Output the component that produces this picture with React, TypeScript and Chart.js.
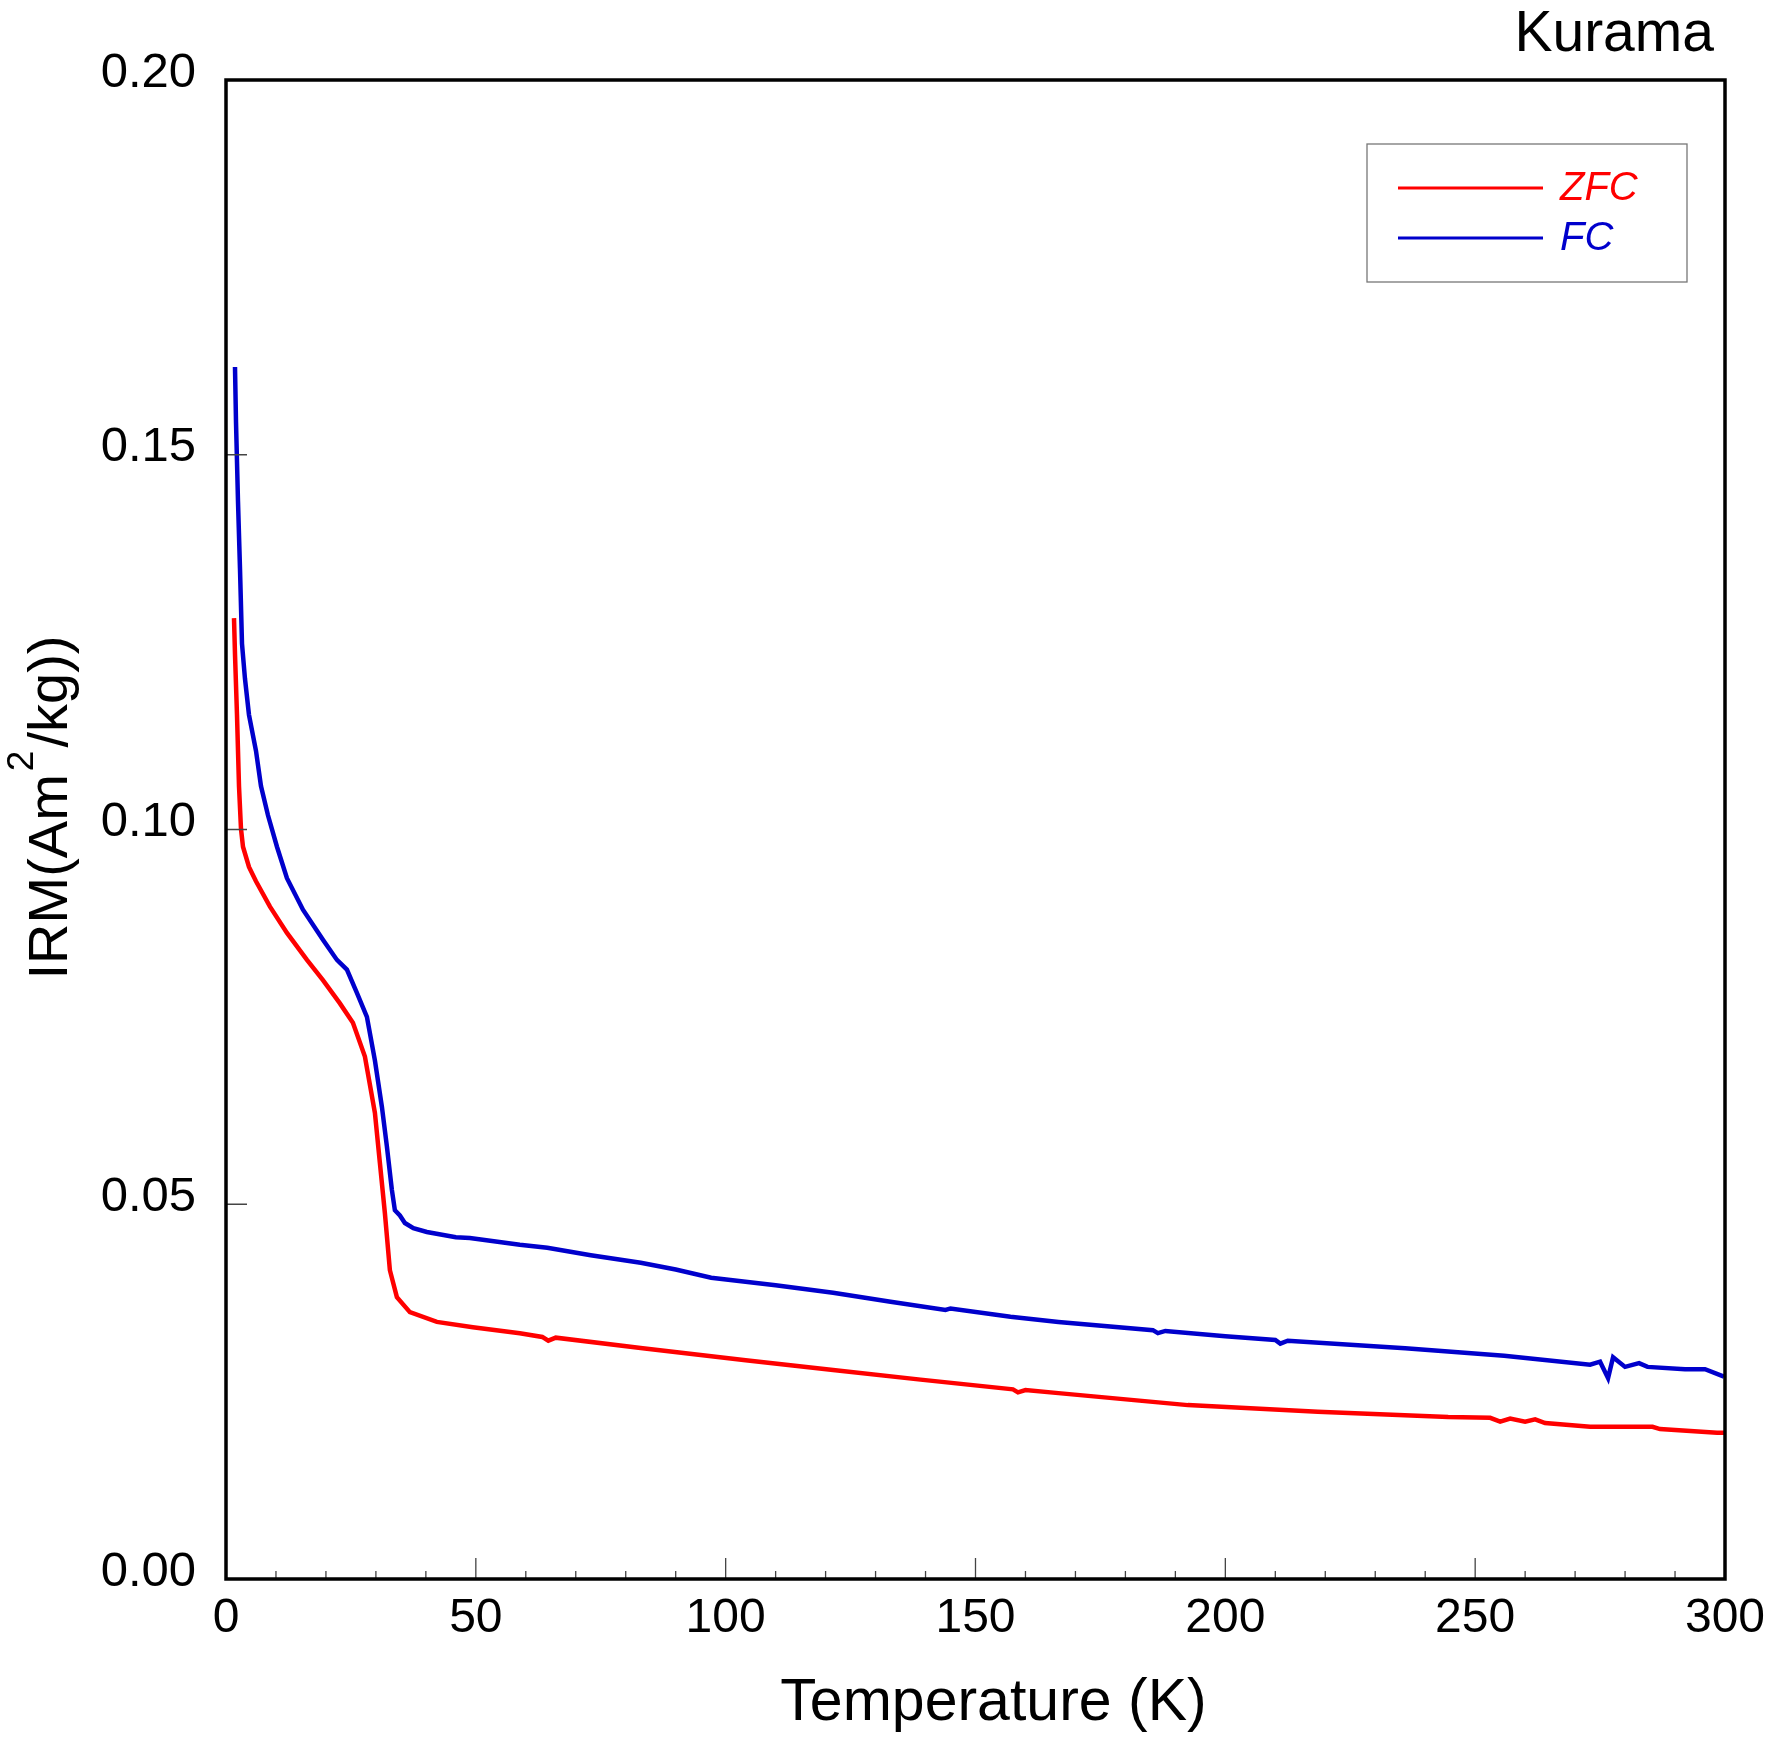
import React, { useEffect, useRef } from "react";
import { Chart, registerables } from "chart.js";

Chart.register(...registerables);

// ---- data (temperature in K, IRM in Am^2/kg) ----
const zfcT = [
  1.6, 1.8, 2.2, 2.6, 3.0, 3.4, 4.6, 6.0, 8.8, 12.2, 16.2, 19.4, 22.8, 25.4, 27.8,
  29.8, 30.8, 31.8, 32.8, 34.2, 36.8, 42.2, 49.4, 58.8, 63.3, 64.5, 66, 83.4, 104,
  121.5, 139, 157.5, 158.5, 160, 166.6, 192.5, 218.5, 244.6, 253, 255, 257, 260, 262,
  264, 273, 285.5, 287, 298.4, 299.8,
];
const zfcIRM = [
  0.1282, 0.1234, 0.1153, 0.1058, 0.1001, 0.0977, 0.0950, 0.0931, 0.0897, 0.0862,
  0.0826, 0.0799, 0.0768, 0.0742, 0.0697, 0.0622, 0.0555, 0.0488, 0.0412, 0.0376,
  0.0356, 0.0343, 0.0336, 0.0328, 0.0323, 0.0318, 0.0322, 0.0308, 0.0292, 0.0279,
  0.0266, 0.0253, 0.0249, 0.0252, 0.0248, 0.0232, 0.0223, 0.0216, 0.0215, 0.0210,
  0.0214, 0.0210, 0.0213, 0.0208, 0.0203, 0.0203, 0.0200, 0.0195, 0.0195,
];
const fcT = [
  1.8, 2.0, 2.4, 2.8, 3.2, 3.8, 4.6, 6.0, 7.0, 8.4, 10.2, 12.2, 15.4, 19.4, 22.2,
  24.2, 26.2, 28.2, 29.8, 31.2, 32.2, 33.2, 33.8, 34.8, 35.8, 37.5, 40.2, 46, 48.8,
  58.8, 64.3, 73, 83, 90, 97.1, 110, 121.5, 133, 144, 145, 157, 166.6, 185.5, 186.5,
  188, 200, 210, 211, 212.5, 236, 255.8, 273, 275, 276.6, 277.6, 280, 282.8, 284.5,
  292, 296, 299.8,
];
const fcIRM = [
  0.1617, 0.1544, 0.1438, 0.1348, 0.1248, 0.1201, 0.1153, 0.1105, 0.1058, 0.1019,
  0.0977, 0.0935, 0.0893, 0.0853, 0.0826, 0.0813, 0.0782, 0.0750, 0.0692, 0.0630,
  0.0577, 0.0519, 0.0492, 0.0485, 0.0475, 0.0468, 0.0463, 0.0456, 0.0455, 0.0446,
  0.0442, 0.0432, 0.0422, 0.0413, 0.0402, 0.0392, 0.0382, 0.0370, 0.0359, 0.0361,
  0.0350, 0.0343, 0.0332, 0.0328, 0.0331, 0.0324, 0.0319, 0.0314, 0.0318, 0.0308,
  0.0298, 0.0286, 0.0290, 0.0268, 0.0296, 0.0283, 0.0288, 0.0283, 0.0280, 0.0280,
  0.0270,
];
const seriesLabels = ["ZFC", "FC"];
const seriesColors = ["#ff0000", "#0000cc"];
const xTicks = [0, 50, 100, 150, 200, 250, 300];
const xMinorTicks = [10, 20, 30, 40, 60, 70, 80, 90, 110, 120, 130, 140, 160, 170, 180, 190, 210, 220, 230, 240, 260, 270, 280, 290];
const yTicks = [0, 0.05, 0.1, 0.15, 0.2];
const sampleName = "Kurama";
const xTitle = "Temperature (K)";

const FONT = '"Liberation Sans", Arial, Helvetica, sans-serif';

const framePlugin = {
  id: "frameAndDecor",
  afterDraw(chart: any) {
    const { ctx, chartArea } = chart;
    const xs = chart.scales.x;
    const ys = chart.scales.y;
    const { left, right, top, bottom } = chartArea;
    ctx.save();
    // tick marks (inward)
    ctx.strokeStyle = "#444";
    ctx.lineWidth = 1.3;
    ctx.beginPath();
    xTicks.forEach((v) => {
      const px = xs.getPixelForValue(v);
      ctx.moveTo(px, bottom);
      ctx.lineTo(px, bottom - 21);
    });
    xMinorTicks.forEach((v) => {
      const px = xs.getPixelForValue(v);
      ctx.moveTo(px, bottom);
      ctx.lineTo(px, bottom - 8);
    });
    yTicks.forEach((v) => {
      const py = ys.getPixelForValue(v);
      ctx.moveTo(left, py);
      ctx.lineTo(left + 21, py);
    });
    ctx.stroke();
    // frame
    ctx.strokeStyle = "#000";
    ctx.lineWidth = 3.5;
    ctx.strokeRect(left, top, right - left, bottom - top);

    // sample name
    ctx.fillStyle = "#000";
    ctx.font = `57px ${FONT}`;
    ctx.textAlign = "right";
    ctx.textBaseline = "alphabetic";
    ctx.fillText(sampleName, right - 11, top - 29);

    // x-axis title
    ctx.font = `59px ${FONT}`;
    ctx.textAlign = "center";
    ctx.fillText(xTitle, (left + right) / 2 + 18, bottom + 141);

    // y-axis title with superscript
    const mainFont = `56px ${FONT}`;
    const supFont = `37px ${FONT}`;
    const p1 = "IRM(Am";
    const p2 = "2";
    const p3 = "/kg))";
    ctx.font = mainFont;
    const w1 = ctx.measureText(p1).width;
    const w3 = ctx.measureText(p3).width;
    ctx.font = supFont;
    const w2 = ctx.measureText(p2).width;
    const total = w1 + w2 + 6 + w3;
    const cy = (top + bottom) / 2 - 22;
    ctx.translate(67, cy + total / 2);
    ctx.rotate(-Math.PI / 2);
    ctx.textAlign = "left";
    ctx.textBaseline = "alphabetic";
    ctx.font = mainFont;
    ctx.fillText(p1, 0, 0);
    ctx.font = supFont;
    ctx.fillText(p2, w1 + 3, -34);
    ctx.font = mainFont;
    ctx.fillText(p3, w1 + w2 + 6, 0);
    ctx.setTransform(1, 0, 0, 1, 0, 0);

    // legend
    const bx = right - 358;
    const by = top + 64;
    const bw = 320;
    const bh = 138;
    ctx.strokeStyle = "#777";
    ctx.lineWidth = 1.3;
    ctx.strokeRect(bx, by, bw, bh);
    chart.data.datasets.forEach((ds: any, i: number) => {
      const ly = by + 44 + i * 50;
      ctx.strokeStyle = ds.borderColor;
      ctx.lineWidth = 3;
      ctx.beginPath();
      ctx.moveTo(bx + 31, ly);
      ctx.lineTo(bx + 176, ly);
      ctx.stroke();
      ctx.fillStyle = ds.borderColor;
      ctx.font = `italic 40px ${FONT}`;
      ctx.textAlign = "left";
      ctx.textBaseline = "alphabetic";
      ctx.fillText(ds.label, bx + 193, ly + 12);
    });
    ctx.restore();
  },
};

export default function App() {
  const ref = useRef<HTMLCanvasElement | null>(null);
  useEffect(() => {
    if (!ref.current) return;
    const zfcData = zfcT.map((t, i) => ({ x: t, y: zfcIRM[i] }));
    const fcData = fcT.map((t, i) => ({ x: t, y: fcIRM[i] }));
    const chart = new Chart(ref.current, {
      type: "line",
      data: {
        datasets: [
          {
            label: seriesLabels[0],
            data: zfcData,
            borderColor: seriesColors[0],
            backgroundColor: seriesColors[0],
            borderWidth: 4.5,
            pointRadius: 0,
            tension: 0,
            fill: false,
          },
          {
            label: seriesLabels[1],
            data: fcData,
            borderColor: seriesColors[1],
            backgroundColor: seriesColors[1],
            borderWidth: 4.5,
            pointRadius: 0,
            tension: 0,
            fill: false,
          },
        ],
      },
      options: {
        animation: false,
        responsive: false,
        devicePixelRatio: 1,
        layout: { padding: { top: 80, right: 58, left: 0, bottom: 0 } },
        plugins: {
          legend: { display: false },
          tooltip: { enabled: false },
          title: { display: false },
        },
        scales: {
          x: {
            type: "linear",
            min: 0,
            max: 300,
            grid: { display: false },
            border: { display: false },
            ticks: {
              stepSize: 50,
              color: "#000",
              font: { family: FONT, size: 48 },
              padding: 3,
              maxRotation: 0,
              autoSkip: false,
            },
            afterFit: (scale: any) => {
              scale.height = 160;
            },
          },
          y: {
            type: "linear",
            min: 0,
            max: 0.2,
            grid: { display: false },
            border: { display: false },
            ticks: {
              stepSize: 0.05,
              color: "#000",
              font: { family: FONT, size: 49 },
              padding: 22,
              labelOffset: -7,
              callback: (v: any) => Number(v).toFixed(2),
            },
            afterFit: (scale: any) => {
              scale.width = 226;
            },
          },
        },
      },
      plugins: [framePlugin],
    });
    return () => chart.destroy();
  }, []);
  return (
    <div style={{ position: "absolute", left: 0, top: 0, width: 1783, height: 1739, background: "#fff" }}>
      <canvas ref={ref} width={1783} height={1739} style={{ width: 1783, height: 1739, display: "block" }} />
    </div>
  );
}
